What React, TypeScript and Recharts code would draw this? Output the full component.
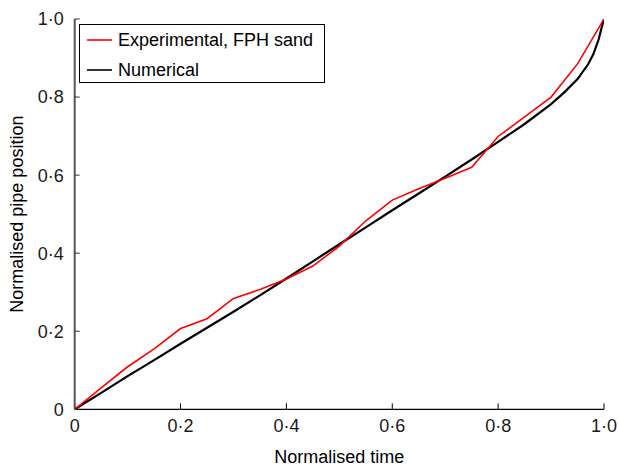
import React from 'react';
import { LineChart, Line, XAxis, YAxis, Legend } from 'recharts';

// normalised time steps for the experimental run
const expTime = [0, 0.05, 0.1, 0.15, 0.2, 0.25, 0.3, 0.35, 0.4, 0.45, 0.5, 0.55, 0.6, 0.65, 0.7, 0.75, 0.8, 0.85, 0.9, 0.95, 1.0];
const expPosition = [0, 0.055, 0.109, 0.155, 0.207, 0.232, 0.284, 0.307, 0.334, 0.367, 0.418, 0.483, 0.536, 0.565, 0.592, 0.62, 0.699, 0.749, 0.8, 0.885, 1.0];

const numTime = [0, 0.05, 0.1, 0.15, 0.2, 0.25, 0.3, 0.35, 0.4, 0.45, 0.5, 0.55, 0.6, 0.65, 0.7, 0.75, 0.8, 0.85, 0.9, 0.925, 0.95, 0.97, 0.98, 0.99, 0.995, 1.0];
const numPosition = [0, 0.042, 0.085, 0.126, 0.168, 0.209, 0.25, 0.292, 0.335, 0.379, 0.423, 0.466, 0.51, 0.553, 0.596, 0.64, 0.685, 0.731, 0.782, 0.812, 0.846, 0.884, 0.91, 0.948, 0.975, 1.0];

const ticks = [0, 0.2, 0.4, 0.6, 0.8, 1.0];

const expData = expTime.map((t, i) => ({ t, pos: expPosition[i] }));
const numData = numTime.map((t, i) => ({ t, pos: numPosition[i] }));

const fmt = (v: number) => (v === 0 ? '0' : v.toFixed(1).replace('.', '·'));

const FONT = '"Liberation Sans", Arial, sans-serif';

function LegendBox() {
  const rows = [
    { name: 'Experimental, FPH sand', color: '#ff0000' },
    { name: 'Numerical', color: '#000000' },
  ];
  return (
    <div
      style={{
        position: 'relative',
        width: 244,
        height: 57,
        border: '1px solid #000',
        background: '#fff',
        fontFamily: FONT,
        fontSize: 18,
        boxSizing: 'content-box',
      }}
    >
      {rows.map((r, i) => (
        <div key={r.name} style={{ position: 'absolute', left: 7, top: 5 + i * 30, height: 20, display: 'flex', alignItems: 'center' }}>
          <svg width={25} height={4} style={{ display: 'block' }}>
            <line x1={0} y1={2} x2={25} y2={2} stroke={r.color} strokeWidth={1.6} />
          </svg>
          <span style={{ marginLeft: 6, color: '#000', whiteSpace: 'nowrap' }}>{r.name}</span>
        </div>
      ))}
    </div>
  );
}

export default function App() {
  return (
    <div style={{ position: 'absolute', left: 0, top: 0, background: '#fff' }}>
      <LineChart width={619} height={467} margin={{ top: 19, right: 15, bottom: 0, left: 0 }} style={{ fontFamily: FONT }}>
        <XAxis
          type="number"
          dataKey="t"
          domain={[0, 1]}
          ticks={ticks}
          tickFormatter={fmt}
          height={57.7}
          allowDataOverflow
          axisLine={{ stroke: '#000', strokeWidth: 1.3 }}
          tickLine={{ stroke: '#000', strokeWidth: 1 }}
          tickSize={-6}
          tickMargin={15.7}
          tick={{ fill: '#1a1a1a', fontSize: 18 }}
          label={{ value: 'Normalised time', position: 'insideBottom', offset: 4.3, fill: '#000', fontSize: 18 }}
        />
        <YAxis
          type="number"
          dataKey="pos"
          domain={[0, 1]}
          ticks={ticks}
          tickFormatter={fmt}
          width={74.7}
          allowDataOverflow
          axisLine={{ stroke: '#555', strokeWidth: 2 }}
          tickLine={{ stroke: '#333', strokeWidth: 1 }}
          tickSize={-5}
          tickMargin={16}
          tick={{ fill: '#1a1a1a', fontSize: 18 }}
          label={{
            value: 'Normalised pipe position',
            angle: -90,
            position: 'insideLeft',
            offset: 16.5,
            fill: '#000',
            fontSize: 18,
            style: { textAnchor: 'middle' },
          }}
        />
        <Legend
          layout="horizontal"
          verticalAlign="middle"
          align="center"
          content={<LegendBox />}
          wrapperStyle={{ position: 'absolute', left: 79, top: 24, width: 'auto', height: 'auto' }}
        />
        <Line
          data={numData}
          dataKey="pos"
          name="Numerical"
          type="linear"
          stroke="#000"
          strokeWidth={2.2}
          dot={false}
          isAnimationActive={false}
        />
        <Line
          data={expData}
          dataKey="pos"
          name="Experimental, FPH sand"
          type="linear"
          stroke="#ff0000"
          strokeWidth={1.6}
          dot={false}
          isAnimationActive={false}
        />
      </LineChart>
    </div>
  );
}
